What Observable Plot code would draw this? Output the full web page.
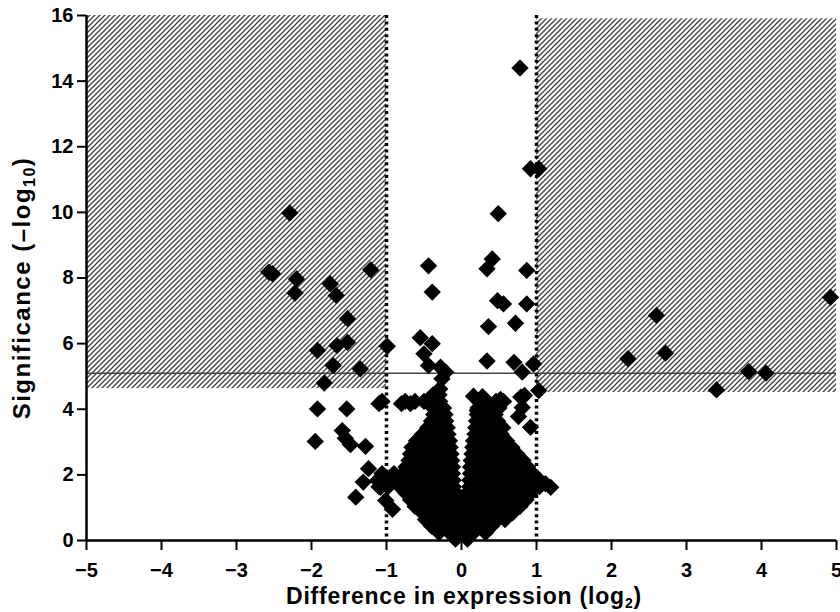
<!DOCTYPE html>
<html><head><meta charset="utf-8">
<script src="https://cdn.jsdelivr.net/npm/d3@7"></script>
<script src="https://cdn.jsdelivr.net/npm/@observablehq/plot@0.6"></script>
<style>
body{margin:0;background:#fff;}
#chart{width:840px;height:612px;}
</style></head><body><div id="chart"></div>
<script>
// ---- data ----
const xTicks = [-5, -4, -3, -2, -1, 0, 1, 2, 3, 4, 5];
const yTicks = [0, 2, 4, 6, 8, 10, 12, 14, 16];
const foldThresholds = [-1, 1];
const significanceThreshold = 5.1;
const hatchX1 = [-5, 1];
const hatchX2 = [-1, 5];
const hatchY1 = [4.63, 4.51];
const hatchY2 = [16, 15.9];

// isolated genes (difference log2, significance -log10)
const outlierX = [-2.29,-2.57,-2.52,-2.2,-2.22,-1.75,-1.67,-1.21,-1.52,-1.92,-1.66,-1.52,-1.71,-1.35,-0.99,-1.83,-1.92,-1.53,-1.95,-1.59,-1.55,-1.48,-1.28,-1.24,-1.31,-1.41,-1.1,-1.06,-0.8,-0.68,-1.12,-1.08,-1.01,-0.92,
  -0.44,-0.39,-0.55,-0.39,-0.5,-0.44,-0.28,-0.21,-0.26,
  0.49,0.41,0.34,0.87,0.48,0.56,0.87,0.36,0.72,0.34,0.7,0.81,0.96,0.78,0.92,1.03,
  0.16,0.28,0.52,0.36,0.21,0.79,0.81,0.76,0.92,1.03,0.84,
  4.92,2.6,2.22,2.72,3.83,4.06,3.4,1.12,1.19];
const outlierY = [9.98,8.18,8.13,7.97,7.54,7.82,7.47,8.25,6.76,5.79,5.94,6.04,5.33,5.23,5.92,4.8,4.01,4.01,3.02,3.35,3.12,2.92,2.87,2.19,1.78,1.32,4.17,4.24,4.17,4.17,1.83,1.62,1.22,0.95,
  8.37,7.57,6.18,6.0,5.69,5.33,5.28,5.13,4.93,
  9.96,8.58,8.28,8.23,7.31,7.21,7.21,6.52,6.62,5.47,5.43,5.13,5.38,14.4,11.33,11.33,
  4.4,4.38,4.3,3.96,3.96,4.37,4.05,3.78,3.45,4.57,4.42,
  7.41,6.86,5.54,5.71,5.15,5.1,4.59,1.73,1.62];

// dense central cloud, read row by row (x values for each significance level)
const cloudLevels = [0.04, 0.24, 0.44, 0.64, 0.84, 1.04, 1.24, 1.44, 1.64, 1.84, 2.04, 2.24, 2.44, 2.64, 2.84, 3.04, 3.24, 3.44, 3.64, 3.84, 4.04, 4.24, 4.44, 4.62];
const cloudX = [
  [-0.08, 0.08],
  [-0.3, -0.16, 0, 0.16, 0.32],
  [-0.4, -0.24, -0.08, 0.08, 0.24, 0.4],
  [-0.48, -0.32, -0.16, 0, 0.16, 0.32, 0.48, 0.58],
  [-0.52, -0.4, -0.24, -0.08, 0.08, 0.24, 0.4, 0.56, 0.68],
  [-0.62, -0.48, -0.32, -0.16, 0, 0.16, 0.32, 0.48, 0.64, 0.78],
  [-0.68, -0.56, -0.4, -0.24, -0.08, 0.08, 0.24, 0.4, 0.56, 0.72, 0.86],
  [-0.74, -0.6, -0.46, -0.32, -0.18, -0.07, 0.07, 0.18, 0.32, 0.46, 0.6, 0.74, 0.92],
  [-1.1, -0.98, -0.82, -0.68, -0.54, -0.4, -0.26, -0.11, 0.11, 0.25, 0.39, 0.53, 0.67, 0.81, 0.95, 1.04],
  [-1.1, -0.98, -0.86, -0.74, -0.6, -0.46, -0.32, -0.18, -0.11, 0.11, 0.18, 0.32, 0.46, 0.6, 0.74, 0.88, 1.04],
  [-1.06, -0.9, -0.78, -0.67, -0.53, -0.39, -0.25, -0.12, 0.12, 0.25, 0.39, 0.53, 0.67, 0.81, 0.95],
  [-0.74, -0.6, -0.46, -0.32, -0.19, -0.12, 0.12, 0.19, 0.32, 0.46, 0.6, 0.74, 0.88],
  [-0.7, -0.53, -0.39, -0.25, -0.13, 0.13, 0.25, 0.39, 0.53, 0.67, 0.82],
  [-0.68, -0.6, -0.46, -0.32, -0.2, -0.14, 0.14, 0.2, 0.32, 0.46, 0.6, 0.74],
  [-0.66, -0.53, -0.39, -0.26, -0.15, 0.15, 0.26, 0.39, 0.53, 0.67],
  [-0.6, -0.46, -0.32, -0.21, -0.16, 0.16, 0.21, 0.32, 0.46, 0.6],
  [-0.52, -0.39, -0.27, -0.18, 0.18, 0.27, 0.39, 0.53],
  [-0.45, -0.33, -0.23, -0.19, 0.19, 0.23, 0.33, 0.46, 0.55],
  [-0.4, -0.3, -0.21, 0.2, 0.29, 0.4, 0.48],
  [-0.37, -0.27, -0.22, 0.21, 0.26, 0.36, 0.45],
  [-0.38, -0.3, -0.24, 0.22, 0.31, 0.41, 0.5],
  [-0.75, -0.62, -0.5, -0.39, -0.29, 0.23, 0.34, 0.46, 0.56],
  [-0.38, -0.3],
  [-0.29]
];

// ---- tables built from the arrays ----
const hatchRegions = hatchX1.map((d, i) => ({x1: d, x2: hatchX2[i], y1: hatchY1[i], y2: hatchY2[i]}));
const points = outlierX.map((d, i) => ({x: d, y: outlierY[i]}))
  .concat(cloudX.flatMap((row, i) => row.map(x => ({x, y: cloudLevels[i]}))));

const font = "'Liberation Sans', Arial, Helvetica, sans-serif";

const svg = Plot.plot({
  width: 840,
  height: 612,
  marginLeft: 86,
  marginRight: 4,
  marginTop: 15,
  marginBottom: 72,
  style: {fontFamily: font, fontWeight: "bold", fontSize: "20px", color: "#000", background: "#fff"},
  x: {domain: [-5, 5]},
  y: {domain: [0, 16]},
  marks: [
    Plot.rect(hatchRegions, {x1: "x1", x2: "x2", y1: "y1", y2: "y2", fill: "url(#hatch)"}),
    Plot.ruleY([significanceThreshold], {stroke: "#444", strokeWidth: 1.5}),
    Plot.ruleX(foldThresholds, {stroke: "#000", strokeWidth: 3.5, strokeDasharray: "3,3.4"}),
    Plot.dot(points, {x: "x", y: "y", symbol: "diamond2", r: 7.8, fill: "#000", stroke: "none"}),
    Plot.axisX({ticks: xTicks, tickSize: 10, tickPadding: 12, strokeWidth: 2, label: null}),
    Plot.axisY({ticks: yTicks, tickSize: 9, tickPadding: 4, strokeWidth: 2, label: null}),
    Plot.ruleX([-5], {stroke: "#000", strokeWidth: 2.5}),
    Plot.ruleY([0], {stroke: "#000", strokeWidth: 2.5})
  ]
});

const s = d3.select(svg);
const defs = s.insert("defs", ":first-child");
const pat = defs.append("pattern")
  .attr("id", "hatch")
  .attr("patternUnits", "userSpaceOnUse")
  .attr("width", 5).attr("height", 5);
pat.append("rect").attr("width", 5).attr("height", 5).attr("fill", "#fff");
pat.append("path")
  .attr("d", "M-1,1 L1,-1 M0,5 L5,0 M4,6 L6,4")
  .attr("stroke", "#444").attr("stroke-width", 1.4);

// axis titles with subscripts
const xt = s.append("text")
  .attr("x", 464).attr("y", 604)
  .attr("text-anchor", "middle")
  .style("font-family", font).style("font-weight", "bold")
  .style("font-size", "23px").style("letter-spacing", "0.8px")
  .attr("fill", "#000");
xt.append("tspan").text("Difference in expression (log");
xt.append("tspan").attr("dy", 4).style("font-size", "14px").text("2");
xt.append("tspan").attr("dy", -4).text(")");

const yt = s.append("text")
  .attr("transform", "translate(30,288) rotate(-90)")
  .attr("text-anchor", "middle")
  .style("font-family", font).style("font-weight", "bold")
  .style("font-size", "24px").style("letter-spacing", "1.5px")
  .attr("fill", "#000");
yt.append("tspan").text("Significance (\u2013log");
yt.append("tspan").attr("dy", 5).style("font-size", "16px").text("10");
yt.append("tspan").attr("dy", -5).text(")");

document.getElementById("chart").appendChild(svg);
</script>
</body></html>
